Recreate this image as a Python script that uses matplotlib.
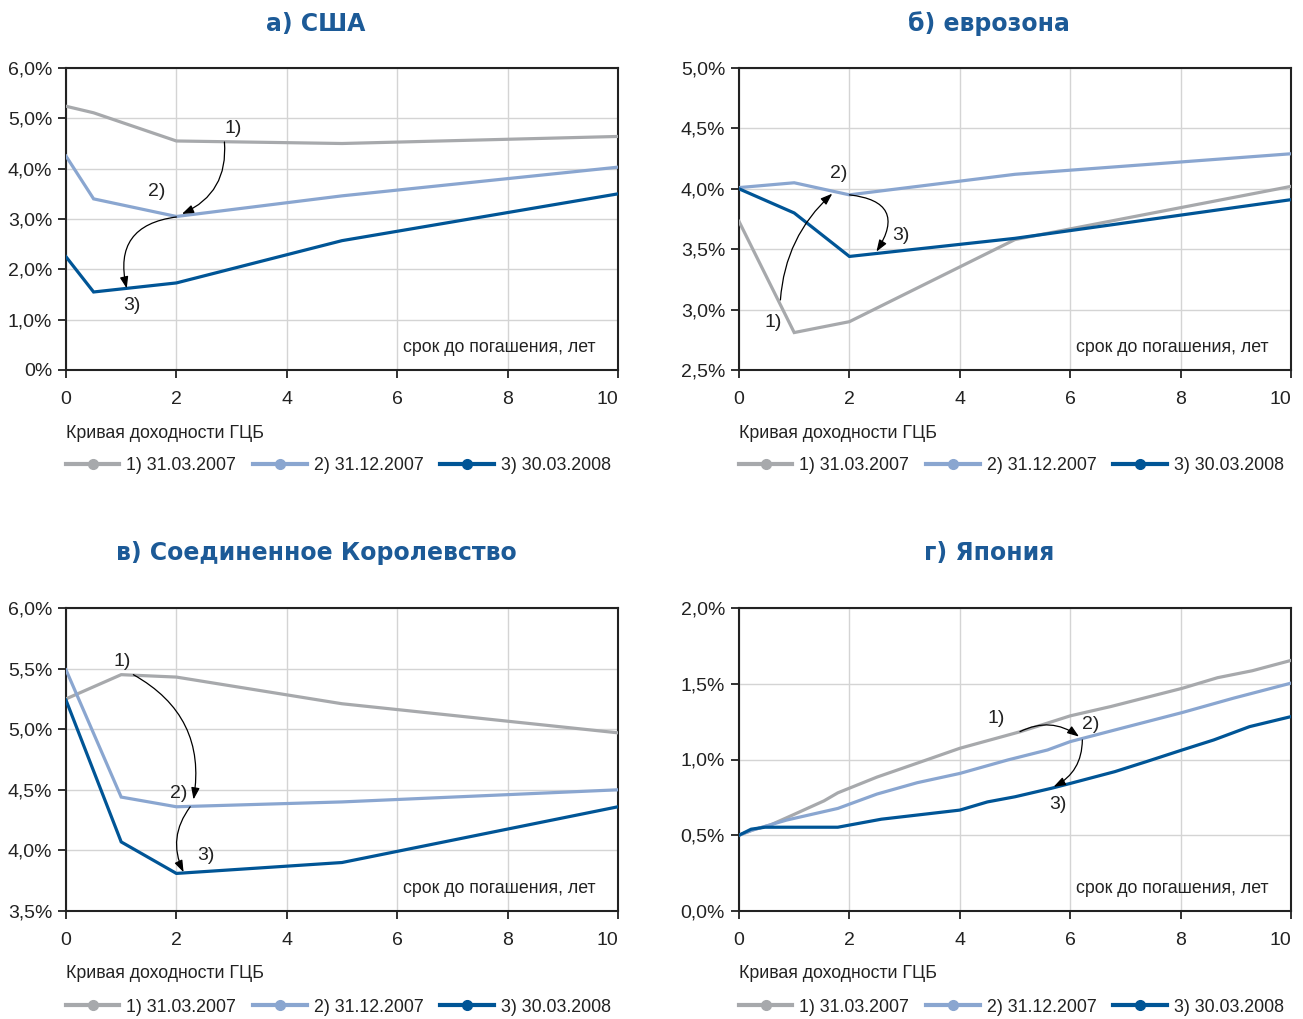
import matplotlib
matplotlib.use('Agg')
import matplotlib.pyplot as plt
from matplotlib.lines import Line2D

plt.rcParams['font.family'] = ['Liberation Sans Narrow', 'Liberation Sans', 'DejaVu Sans']

# ---- data ----
dates = ['1) 31.03.2007', '2) 31.12.2007', '3) 30.03.2008']
colors = ['#a7a9ac', '#8aa6d0', '#005596']

# а) США
us_x = [0, 0.5, 2, 5, 10]
us_1 = [5.24, 5.11, 4.55, 4.50, 4.64]
us_2 = [4.25, 3.40, 3.05, 3.46, 4.03]
us_3 = [2.25, 1.55, 1.73, 2.57, 3.50]

# б) еврозона
eu_x = [0, 1, 2, 5, 10]
eu_1 = [3.73, 2.81, 2.90, 3.58, 4.02]
eu_2 = [4.01, 4.05, 3.95, 4.12, 4.29]
eu_3 = [4.00, 3.80, 3.44, 3.59, 3.91]

# в) Соединенное Королевство
uk_x = [0, 1, 2, 5, 10]
uk_1 = [5.25, 5.45, 5.43, 5.21, 4.97]
uk_2 = [5.49, 4.44, 4.36, 4.40, 4.50]
uk_3 = [5.24, 4.07, 3.81, 3.90, 4.36]

# г) Япония
jp_x1 = [0, 0.25, 0.57, 0.86, 1.54, 1.79, 2.5, 3.3, 4.0, 5.1, 5.5, 6.0, 6.74, 8.03, 8.67, 9.3, 10]
jp_1 = [0.50, 0.535, 0.568, 0.615, 0.727, 0.78, 0.884, 0.985, 1.074, 1.184, 1.23, 1.288, 1.35, 1.47, 1.54, 1.586, 1.654]
jp_x2 = [0, 0.25, 0.86, 1.79, 2.5, 3.23, 4.0, 4.87, 5.59, 6.0, 6.81, 8.03, 8.96, 10]
jp_2 = [0.50, 0.535, 0.60, 0.677, 0.772, 0.847, 0.908, 0.997, 1.063, 1.118, 1.195, 1.31, 1.405, 1.504]
jp_x3 = [0, 0.22, 0.47, 1.79, 2.58, 4.0, 4.5, 5.0, 5.66, 6.0, 6.81, 7.38, 8.03, 8.6, 9.25, 10]
jp_3 = [0.50, 0.54, 0.553, 0.553, 0.606, 0.666, 0.72, 0.754, 0.81, 0.842, 0.92, 0.986, 1.063, 1.129, 1.217, 1.283]

titles = ['а) США', 'б) еврозона', 'в) Соединенное Королевство', 'г) Япония']
x_ticks = [0, 2, 4, 6, 8, 10]

us_yticks = [0, 1, 2, 3, 4, 5, 6]
us_ylabels = ['0%', '1,0%', '2,0%', '3,0%', '4,0%', '5,0%', '6,0%']
eu_yticks = [2.5, 3.0, 3.5, 4.0, 4.5, 5.0]
eu_ylabels = ['2,5%', '3,0%', '3,5%', '4,0%', '4,5%', '5,0%']
uk_yticks = [3.5, 4.0, 4.5, 5.0, 5.5, 6.0]
uk_ylabels = ['3,5%', '4,0%', '4,5%', '5,0%', '5,5%', '6,0%']
jp_yticks = [0.0, 0.5, 1.0, 1.5, 2.0]
jp_ylabels = ['0,0%', '0,5%', '1,0%', '1,5%', '2,0%']

# annotations: (label, x, y)
us_labels = [('1)', 3.02, 4.79), ('2)', 1.65, 3.54), ('3)', 1.2, 1.29)]
us_arrows = [((2.87, 4.53), (2.1, 3.10), -0.35), ((2.0, 3.04), (1.1, 1.62), 0.55)]
eu_labels = [('1)', 0.62, 2.89), ('2)', 1.8, 4.13), ('3)', 2.93, 3.61)]
eu_arrows = [((0.75, 3.08), (1.69, 3.96), -0.2), ((2.0, 3.95), (2.49, 3.48), -0.8)]
uk_labels = [('1)', 1.02, 5.56), ('2)', 2.04, 4.47), ('3)', 2.53, 3.96)]
uk_arrows = [((1.22, 5.45), (2.31, 4.42), -0.35), ((2.25, 4.36), (2.13, 3.82), 0.3)]
jp_labels = [('1)', 4.66, 1.27), ('2)', 6.38, 1.23), ('3)', 5.77, 0.70)]
jp_arrows = [((5.09, 1.184), (6.16, 1.151), -0.3), ((6.22, 1.129), (5.7, 0.82), -0.3)]

panels = [
    ([(us_x, us_1), (us_x, us_2), (us_x, us_3)], us_yticks, us_ylabels, us_labels, us_arrows),
    ([(eu_x, eu_1), (eu_x, eu_2), (eu_x, eu_3)], eu_yticks, eu_ylabels, eu_labels, eu_arrows),
    ([(uk_x, uk_1), (uk_x, uk_2), (uk_x, uk_3)], uk_yticks, uk_ylabels, uk_labels, uk_arrows),
    ([(jp_x1, jp_1), (jp_x2, jp_2), (jp_x3, jp_3)], jp_yticks, jp_ylabels, jp_labels, jp_arrows),
]

W, H = 1303, 1019
fig = plt.figure(figsize=(W / 100, H / 100), dpi=100)

boxes = [(66, 68, 618, 370), (739, 68, 1291, 370), (66, 608, 618, 911), (739, 608, 1291, 911)]
title_pos = [(316, 24), (989, 24), (316, 553), (989, 553)]
title_color = '#1c5a97'
txt_color = '#222222'

for i, (series, yt, yl, labels, arrows) in enumerate(panels):
    l, t, r, b = boxes[i]
    ax = fig.add_axes([l / W, 1 - b / H, (r - l) / W, (b - t) / H])
    for (xs, ys), c in zip(series, colors):
        ax.plot(xs, ys, color=c, lw=2.3, solid_joinstyle='miter', zorder=3)
    ax.set_xlim(0, 10)
    ax.set_ylim(yt[0], yt[-1])
    ax.set_xticks(x_ticks)
    ax.set_yticks(yt)
    ax.set_yticklabels(yl)
    ax.grid(True, color='#d4d4d4', lw=1)
    ax.set_axisbelow(True)
    ax.tick_params(axis='both', labelsize=14, colors=txt_color, length=6, width=1.3,
                   direction='out', pad=4)
    ax.tick_params(axis='x', pad=9)
    ax.get_xticklabels()[-1].set_ha('right')
    for s in ax.spines.values():
        s.set_color(txt_color)
        s.set_linewidth(1.5)

    ax.text(0.96, 0.075, 'срок до погашения, лет', transform=ax.transAxes,
            ha='right', va='center', fontsize=12.8, color=txt_color)

    for txt, x, y in labels:
        ax.text(x, y, txt, fontsize=14, ha='center', va='center', color=txt_color, zorder=5)
    for start, end, rad in arrows:
        ax.annotate('', xy=end, xytext=start,
                    arrowprops=dict(arrowstyle='-|>,head_length=0.7,head_width=0.25',
                                    color='black', lw=0.9,
                                    connectionstyle='arc3,rad=%s' % rad,
                                    shrinkA=0, shrinkB=0), zorder=5)

    tx, ty = title_pos[i]
    fig.text(tx / W, 1 - ty / H, titles[i], ha='center', va='center', fontsize=17,
             fontweight='heavy', color=title_color, family=['DejaVu Sans'])

    h = b - t
    ax.text(0, -63 / h, 'Кривая доходности ГЦБ', transform=ax.transAxes,
            ha='left', va='center', fontsize=12.8, color=txt_color)
    handles = [Line2D([0], [0], color=c, lw=3, marker='o', markersize=7) for c in colors]
    leg = ax.legend(handles, dates, loc='center left', bbox_to_anchor=(0, -96 / h),
                    ncol=3, frameon=False, fontsize=12.8, handlelength=3.0, handletextpad=0.4,
                    columnspacing=0.95, borderaxespad=0, borderpad=0, numpoints=1)
    for tt in leg.get_texts():
        tt.set_color(txt_color)

fig.savefig('out.png', dpi=100)
